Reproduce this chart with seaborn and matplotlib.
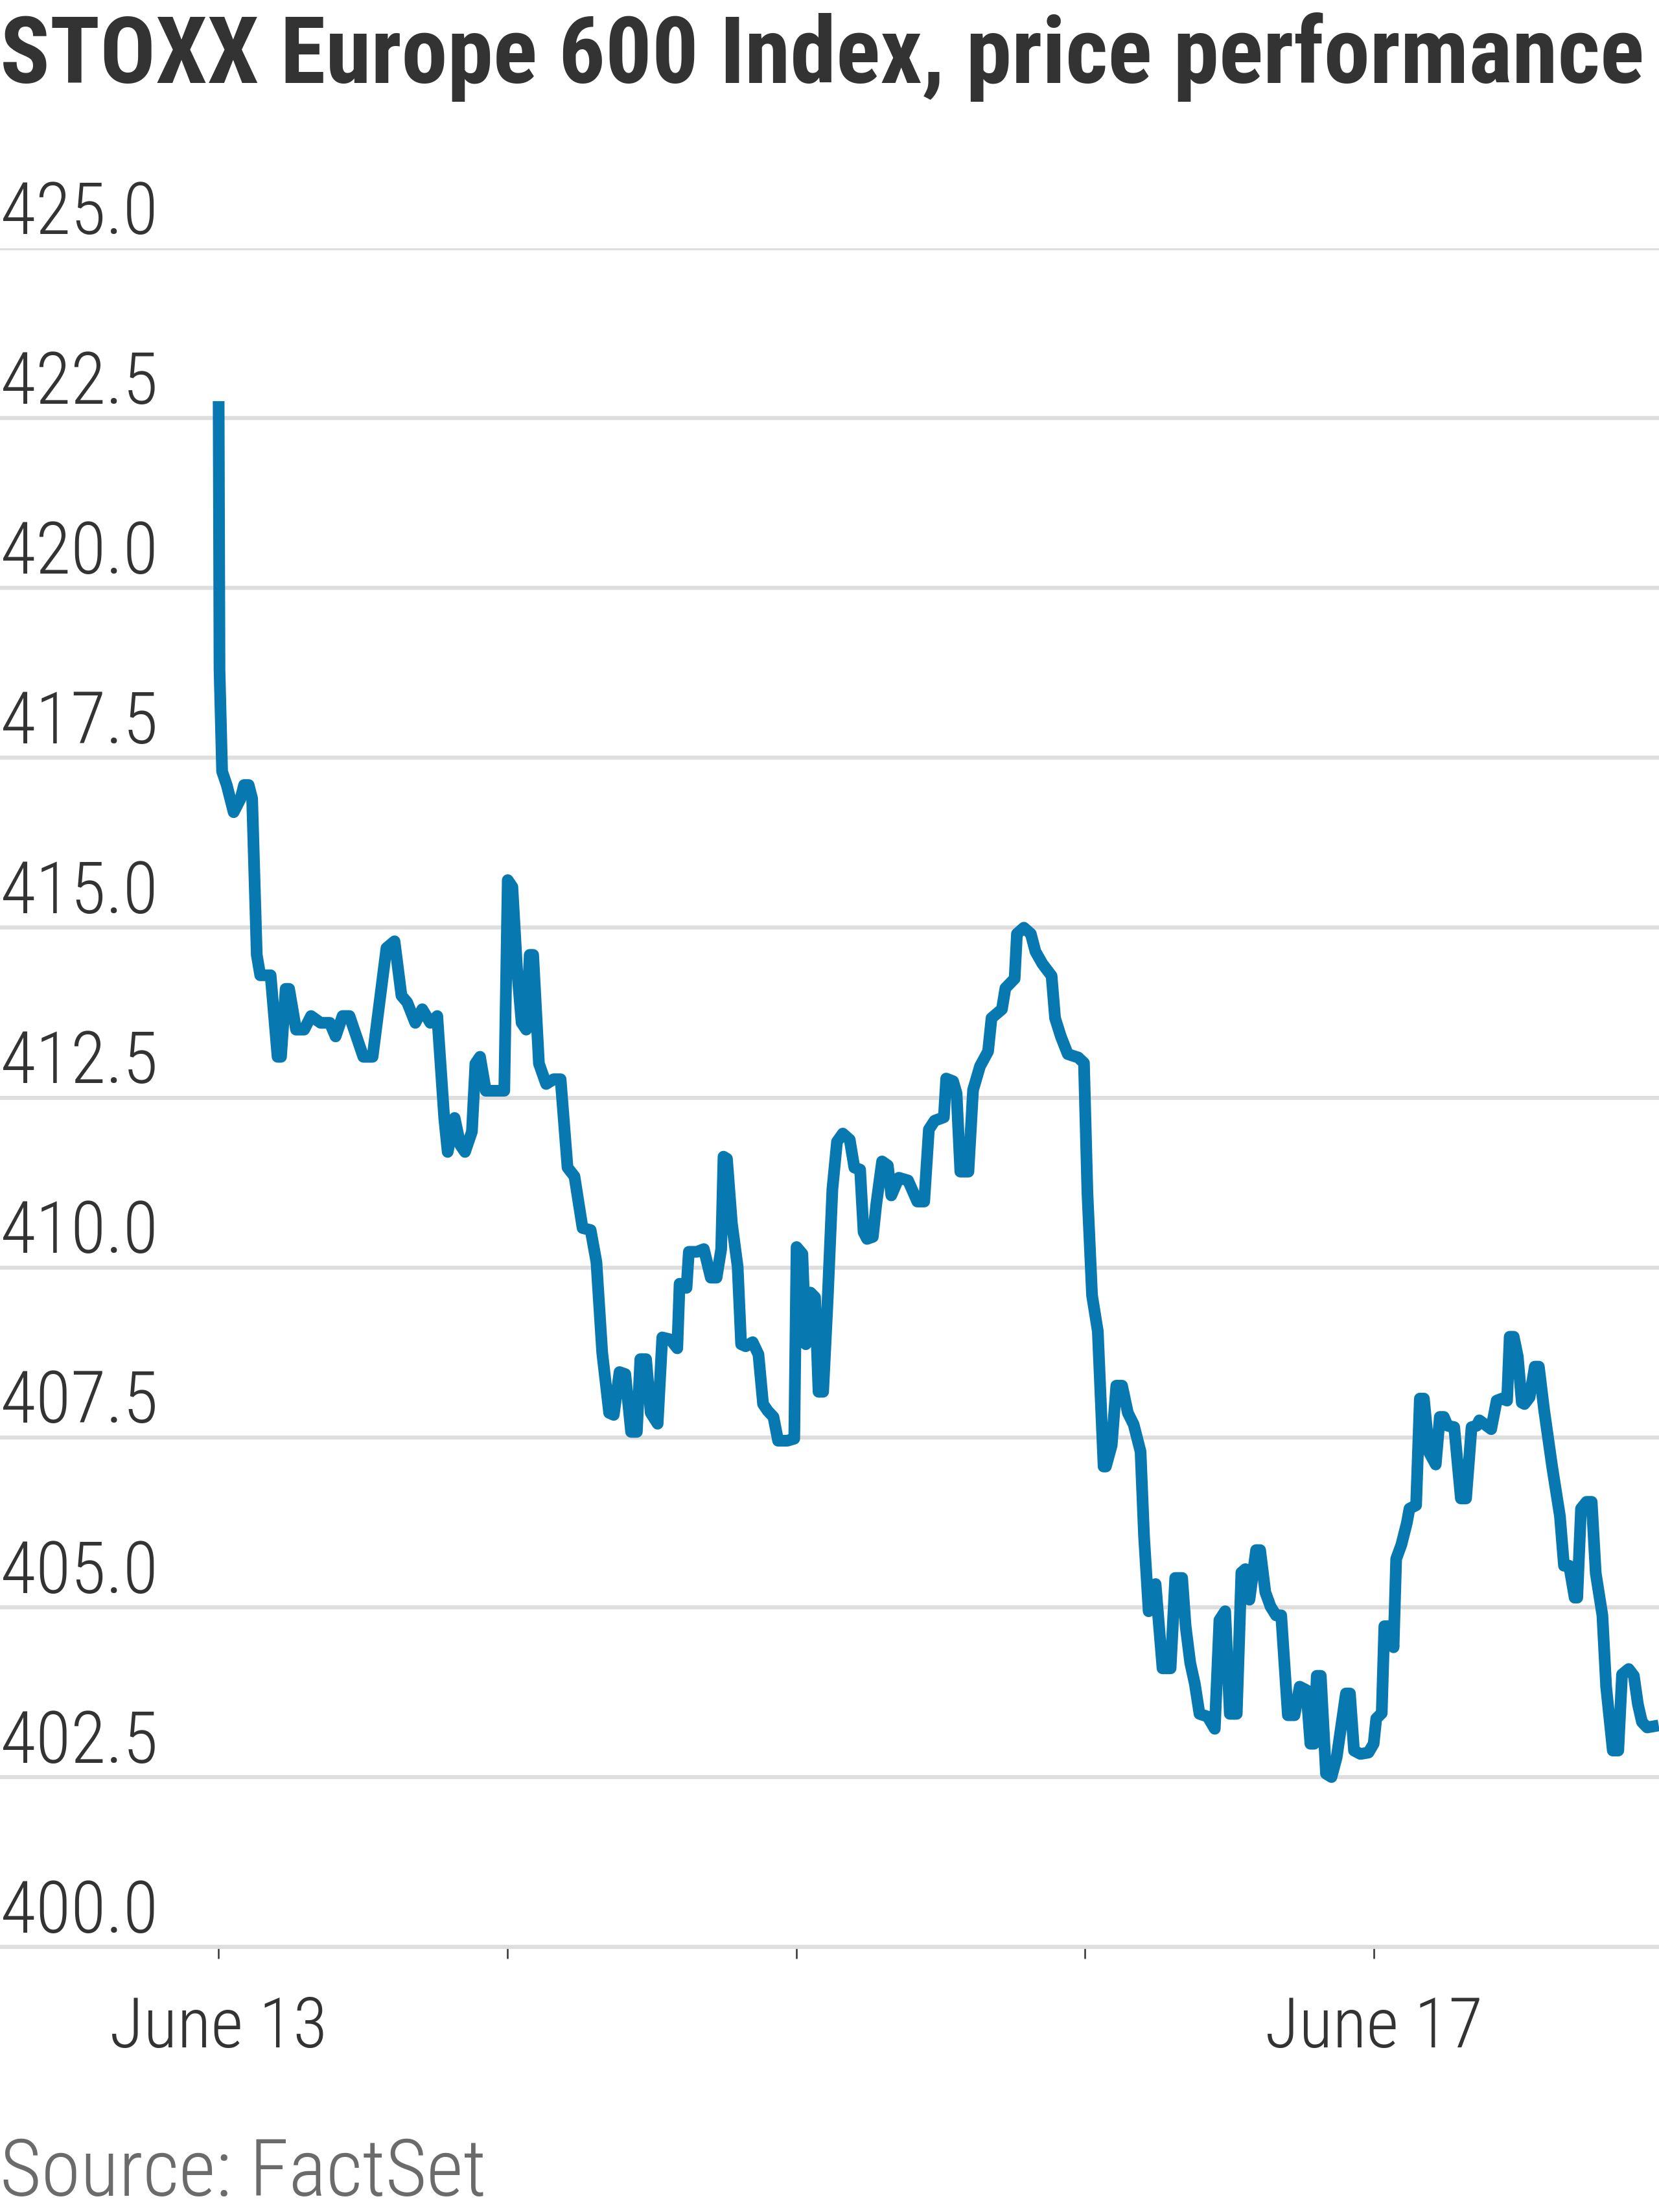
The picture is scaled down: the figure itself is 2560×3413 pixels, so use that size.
import matplotlib
matplotlib.use("Agg")
import numpy as np
import pandas as pd
import seaborn as sns
import matplotlib.pyplot as plt
from matplotlib import font_manager as fm

# ---------------- data ----------------
# time in trading sessions since the June 13 open (1 unit = 1 trading day)
session_time = [
    0.000, 0.003, 0.012, 0.028, 0.052, 0.076, 0.088, 0.104, 0.116, 0.132,
    0.144, 0.180, 0.204, 0.216, 0.232, 0.244, 0.268, 0.296, 0.320, 0.353,
    0.385, 0.405, 0.429, 0.453, 0.477, 0.501, 0.533, 0.557, 0.581, 0.609,
    0.633, 0.653, 0.681, 0.705, 0.733, 0.757, 0.781, 0.793, 0.817, 0.837,
    0.853, 0.877, 0.889, 0.905, 0.925, 0.949, 0.989, 1.001, 1.017, 1.033,
    1.049, 1.065, 1.077, 1.089, 1.109, 1.134, 1.160, 1.184, 1.208, 1.232,
    1.260, 1.288, 1.308, 1.328, 1.352, 1.368, 1.388, 1.408, 1.428, 1.448,
    1.460, 1.480, 1.496, 1.520, 1.536, 1.564, 1.588, 1.596, 1.620, 1.628,
    1.656, 1.680, 1.704, 1.724, 1.740, 1.748, 1.760, 1.777, 1.797, 1.809,
    1.825, 1.849, 1.869, 1.885, 1.901, 1.921, 1.937, 1.969, 1.993, 2.001,
    2.021, 2.033, 2.049, 2.065, 2.077, 2.093, 2.109, 2.125, 2.141, 2.161,
    2.185, 2.201, 2.221, 2.233, 2.245, 2.265, 2.277, 2.297, 2.317, 2.329,
    2.355, 2.387, 2.419, 2.443, 2.459, 2.479, 2.511, 2.519, 2.543, 2.555,
    2.568, 2.596, 2.612, 2.636, 2.664, 2.676, 2.712, 2.724, 2.756, 2.764,
    2.788, 2.812, 2.828, 2.852, 2.884, 2.896, 2.916, 2.940, 2.976, 2.996,
    3.008, 3.024, 3.044, 3.064, 3.072, 3.092, 3.108, 3.128, 3.148, 3.168,
    3.192, 3.204, 3.220, 3.244, 3.268, 3.296, 3.312, 3.336, 3.348, 3.364,
    3.380, 3.396, 3.424, 3.449, 3.465, 3.485, 3.501, 3.525, 3.541, 3.555,
    3.569, 3.592, 3.606, 3.624, 3.642, 3.661, 3.679, 3.702, 3.725, 3.743,
    3.766, 3.780, 3.793, 3.802, 3.816, 3.834, 3.853, 3.871, 3.903, 3.917,
    3.931, 3.953, 3.981, 3.999, 4.008, 4.027, 4.036, 4.059, 4.068, 4.077,
    4.095, 4.114, 4.123, 4.146, 4.159, 4.173, 4.191, 4.214, 4.228, 4.242,
    4.255, 4.278, 4.301, 4.319, 4.338, 4.356, 4.365, 4.406, 4.425, 4.443,
    4.461, 4.470, 4.484, 4.498, 4.512, 4.521, 4.539, 4.557, 4.571, 4.589,
    4.617, 4.644, 4.658, 4.676, 4.695, 4.704, 4.717, 4.736, 4.754, 4.768,
    4.791, 4.804, 4.827, 4.846, 4.859, 4.882, 4.900, 4.914, 4.928, 4.946,
    4.986,
]
index_level = [
    422.75, 418.80, 417.30, 417.10, 416.70, 416.90, 417.10, 417.10, 416.90, 414.60,
    414.30, 414.30, 413.10, 413.10, 414.10, 414.10, 413.50, 413.50, 413.70, 413.60,
    413.60, 413.40, 413.70, 413.70, 413.40, 413.10, 413.10, 413.90, 414.70, 414.80,
    414.00, 413.90, 413.60, 413.80, 413.60, 413.70, 412.20, 411.70, 412.20, 411.80,
    411.70, 412.00, 413.00, 413.10, 412.60, 412.60, 412.60, 415.70, 415.60, 414.40,
    413.60, 413.50, 414.60, 414.60, 413.00, 412.70, 412.77, 412.77, 411.47, 411.34,
    410.58, 410.55, 410.08, 408.75, 407.86, 407.83, 408.46, 408.43, 407.58, 407.58,
    408.65, 408.65, 407.86, 407.70, 408.97, 408.94, 408.81, 409.76, 409.70, 410.23,
    410.23, 410.27, 409.85, 409.85, 410.27, 411.63, 411.60, 410.65, 410.01, 408.87,
    408.84, 408.90, 408.72, 407.99, 407.89, 407.80, 407.45, 407.45, 407.48, 410.30,
    410.20, 408.87, 409.63, 409.56, 408.17, 408.17, 409.56, 411.15, 411.85, 411.97,
    411.88, 411.47, 411.44, 410.52, 410.42, 410.45, 410.93, 411.56, 411.50, 411.06,
    411.32, 411.28, 410.97, 410.97, 412.03, 412.16, 412.21, 412.78, 412.74, 412.56,
    411.41, 411.41, 412.61, 412.96, 413.18, 413.67, 413.80, 414.11, 414.25, 414.91,
    415.00, 414.91, 414.65, 414.47, 414.29, 413.67, 413.40, 413.14, 413.09, 413.01,
    411.10, 409.59, 409.06, 407.07, 407.07, 407.38, 408.26, 408.26, 407.86, 407.69,
    407.29, 406.05, 404.94, 405.34, 404.10, 404.10, 405.43, 405.43, 404.72, 404.18,
    403.87, 403.43, 403.39, 403.21, 404.81, 404.94, 403.43, 403.43, 405.51, 405.56,
    405.11, 405.84, 405.84, 405.22, 405.01, 404.88, 404.88, 403.41, 403.41, 403.83,
    403.78, 402.99, 402.99, 403.99, 403.99, 402.55, 402.50, 402.79, 403.73, 403.73,
    402.89, 402.84, 402.86, 402.99, 403.36, 403.44, 404.72, 404.72, 404.41, 405.71,
    405.92, 406.24, 406.45, 406.50, 408.07, 408.07, 407.28, 407.10, 407.80, 407.80,
    407.67, 407.65, 406.60, 406.60, 407.65, 407.67, 407.75, 407.62, 408.04, 408.07,
    408.04, 408.98, 408.98, 408.69, 408.01, 407.99, 408.09, 408.54, 408.54, 407.91,
    407.07, 406.34, 405.61, 405.61, 405.14, 405.14, 406.45, 406.55, 406.55, 405.50,
    404.88, 403.83, 402.89, 402.89, 404.01, 404.09, 403.99, 403.57, 403.31, 403.23,
    403.26,
]
y_ticks = [400.0, 402.5, 405.0, 407.5, 410.0, 412.5, 415.0, 417.5, 420.0, 422.5, 425.0]
x_ticks = [0, 1, 2, 3, 4]
x_tick_labels = ["June 13", "", "", "", "June 17"]
title_text = "STOXX Europe 600 Index, price performance"
source_text = "Source: FactSet"

# ---------------- style ----------------
sns.set_theme(style="white")
avail = {f.name for f in fm.fontManager.ttflist}


def pick(cands):
    for c in cands:
        if c in avail:
            return c
    return "DejaVu Sans"


narrow = pick(["Roboto Condensed", "Liberation Sans Narrow", "Roboto", "Liberation Sans"])
title_font = pick(["Roboto Condensed", "Open Sans", "Noto Sans"])
plt.rcParams["font.family"] = [narrow, "DejaVu Sans"]
fam = [narrow, "DejaVu Sans"]

W, H = 2560, 3413
fig = plt.figure(figsize=(W / 100, H / 100), dpi=100)
fig.patch.set_facecolor("white")
ax = fig.add_axes([0, 1 - 3004 / H, 1, (3004 - 383) / H])
ax.set_facecolor("white")

df = pd.DataFrame({"t": session_time, "v": index_level})
sns.lineplot(data=df, x="t", y="v", ax=ax, color="#0878b0", linewidth=13,
             estimator=None, sort=False)
for ln in ax.lines:
    ln.set_linewidth(13)
    ln.set_solid_joinstyle("round")
    ln.set_solid_capstyle("butt")
    ln.set_zorder(3)

ax.set_xlim(-0.757, 4.987)
ax.set_ylim(400, 425)
ax.set_xlabel("")
ax.set_ylabel("")

ax.set_yticks(y_ticks)
ax.tick_params(axis="y", left=False, labelleft=False)
ax.grid(axis="y", color="#dedede", linewidth=4.5)
ax.grid(axis="x", visible=False)
ax.set_axisbelow(True)

for s in ["top", "left", "right"]:
    ax.spines[s].set_visible(False)
ax.spines["bottom"].set_color("#dedede")
ax.spines["bottom"].set_linewidth(4.5)

ax.set_xticks(x_ticks)
ax.set_xticklabels(x_tick_labels, fontsize=78, color="#333333", family=fam,
                   fontweight="light")
ax.tick_params(axis="x", bottom=True, length=13, width=1.8, color="#333333",
               pad=40, direction="out")

for v in y_ticks:
    ax.annotate(f"{v:.1f}", xy=(0, v), xycoords=("axes fraction", "data"),
                xytext=(1, 16), textcoords="offset points", ha="left", va="baseline",
                fontsize=80, color="#333333", family=fam, fontweight="light")

t = fig.text(0.0, 1 - 128 / H, title_text, ha="left", va="baseline", fontsize=70,
             fontweight="bold", color="#333333", family=[title_font, "DejaVu Sans"])
fig.canvas.draw()
bb = t.get_window_extent(fig.canvas.get_renderer())
t.set_fontsize(70 * 2540 / bb.width)

s = fig.text(0.0, 1 - 3388 / H, source_text, ha="left", va="baseline", fontsize=80,
             color="#6b6b6b", family=fam, fontweight="light")
fig.canvas.draw()
bb = s.get_window_extent(fig.canvas.get_renderer())
s.set_fontsize(80 * 750 / bb.width)

fig.savefig("out.png", dpi=100, facecolor="white")
